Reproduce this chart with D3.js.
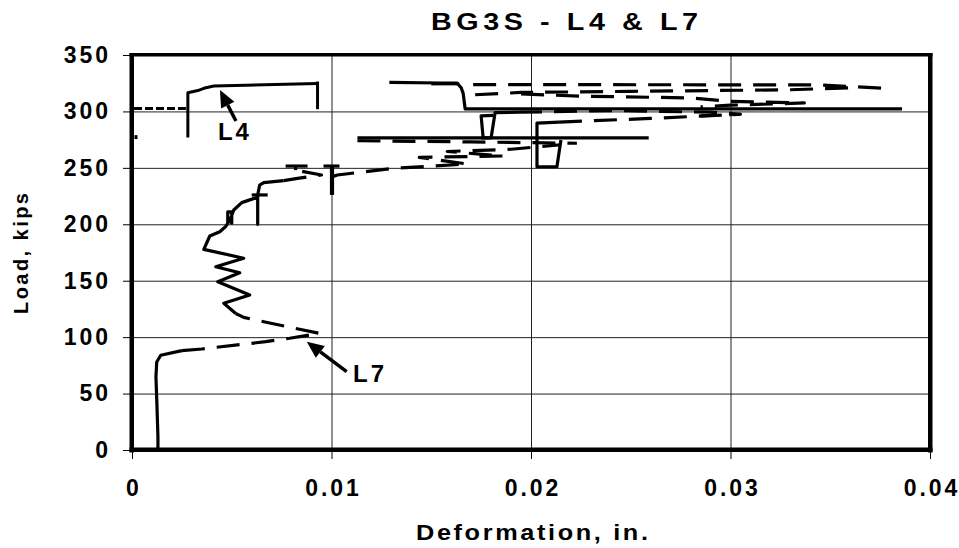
<!DOCTYPE html>
<html lang="en">
<head>
<meta charset="UTF-8" />
<title>BG3S - L4 &amp; L7</title>
<script src="https://d3js.org/d3.v7.min.js"></script>
<style>
  body { margin: 0; background: #fff; }
  svg { display: block; font-family: 'Liberation Sans', Arial, sans-serif; font-weight: bold; }
  .tick text { font-size: 23px; font-weight: bold; letter-spacing: 3px; fill: #000; }
  .grid line { stroke: #222; stroke-width: 1; }
  .grid .domain { display: none; }
</style>
</head>
<body>
<svg id="chart" width="959" height="548"></svg>
<script>
// ---- values (deformation in., load kips) ----
const xTicks = [0, 0.01, 0.02, 0.03, 0.04];
const xTickLabels = ["0", "0.01", "0.02", "0.03", "0.04"];
const yTicks = [0, 50, 100, 150, 200, 250, 300, 350];

// L4 gauge
const l4Solid = [
  [[0.0002, 275.5], [0.0002, 279]],
  [[0.0028, 277], [0.0028, 316.5], [0.0033, 318.5], [0.0036, 320.5], [0.0041, 322.5], [0.0093, 324.8]],
  [[0.0093, 326.5], [0.0093, 302]]
];
const l4Dotted = [
  [[0.0001, 302.5], [0.0028, 302.5]]
];

// L7 gauge
const l7Solid = [
  [[0.0013, 0], [0.0013, 12], [0.00125, 40], [0.0012, 65], [0.00124, 78], [0.00144, 84], [0.0025, 88]],
  [[0.0052, 121], [0.0046, 130], [0.0059, 137.3], [0.0043, 149], [0.0054, 157], [0.0042, 162.4],
   [0.0056, 169.9], [0.0036, 177.8], [0.0039, 189.6], [0.0044, 193.4], [0.0047, 198], [0.0048, 201],
   [0.0048, 211], [0.0050, 211], [0.0050, 201], [0.0049, 203], [0.0051, 212.7], [0.0055, 219.2],
   [0.0063, 224], [0.0063, 200], [0.0063, 226], [0.0064, 234.8], [0.0066, 236.9], [0.0076, 238.7]],
  [[0.0060, 226], [0.0068, 226]],
  [[0.0077, 251.6], [0.0088, 251.6]],
  [[0.0082, 248], [0.0082, 251.6]],
  [[0.0096, 251.6], [0.0104, 251.6]],
  [[0.0100, 251.6], [0.0100, 226]],
  [[0.01005, 251.6], [0.01005, 226]],
  [[0.0259, 276.5], [0.0113, 276.5]],
  [[0.0215, 274.7], [0.0213, 251], [0.0203, 251], [0.0203, 289.7], [0.0214, 290.6]],
  [[0.0176, 277], [0.0175, 296], [0.0181, 296.5]],
  [[0.0175, 276.5], [0.0180, 276.5], [0.0182, 299], [0.0194, 299.3]],
  [[0.0129, 325.8], [0.0155, 325.2], [0.0163, 325], [0.0165, 321], [0.0166, 316], [0.0167, 302.2], [0.0386, 302.2]],
  [[0.0150, 324.5], [0.0164, 324.5]]
];
const l7Dashed = [
  [[0.0025, 88], [0.0035, 89.5], [0.0067, 96], [0.0079, 99], [0.0094, 103.4], [0.0084, 107],
   [0.0069, 112.5], [0.0056, 117.5], [0.0052, 121]],
  [[0.0076, 238.7], [0.0083, 240.7], [0.0095, 243.7], [0.0082, 248]],
  [[0.0100, 242], [0.0103, 243.7], [0.0131, 249.6], [0.0168, 253.4], [0.0144, 259.3], [0.0186, 260.5],
   [0.0158, 264.5], [0.0190, 266.5], [0.0215, 270.5]],
  [[0.0113, 274], [0.0170, 273], [0.0223, 271.8]],
  [[0.0214, 290.6], [0.0260, 293.8], [0.0305, 297.5]],
  [[0.0194, 299.3], [0.0240, 300.8], [0.0290, 299.3], [0.0305, 297.5], [0.0285, 296]],
  [[0.0171, 323.8], [0.0345, 323.5], [0.0358, 322.2], [0.0378, 320.5]],
  [[0.0172, 314.8], [0.0195, 316.8], [0.0250, 317.8], [0.0330, 319.2], [0.0360, 321]],
  [[0.0195, 315.5], [0.0225, 313.5], [0.0280, 312], [0.0300, 309], [0.0337, 307.5], [0.0300, 305.5], [0.0285, 304]]
];

// callouts: label centre, arrow tail, arrow tip
const callouts = [
  { text: "L4", at: [0.00516, 282.7], tail: [0.00521, 291.5], tip: [0.00441, 319] },
  { text: "L7", at: [0.01193, 68.2], tail: [0.01076, 69.4], tip: [0.00876, 96] }
];

// ---- drawing ----
const svg = d3.select("#chart");
const x = d3.scaleLinear().domain([0, 0.04]).range([132, 930]);
const y = d3.scaleLinear().domain([0, 350]).range([450, 55]);
const line = d3.line().x(d => x(d[0])).y(d => y(d[1]));

// grid
svg.append("g").attr("class", "grid")
  .attr("transform", "translate(0,450)")
  .call(d3.axisBottom(x).tickValues(xTicks.slice(1, -1)).tickSize(-(450 - 55)).tickFormat(""));
svg.append("g").attr("class", "grid")
  .attr("transform", "translate(132,0)")
  .call(d3.axisLeft(y).tickValues(yTicks.slice(1, -1)).tickSize(-(930 - 132)).tickFormat(""));

// axes with ticks + labels
const xAxis = svg.append("g")
  .attr("transform", "translate(0,450)")
  .call(d3.axisBottom(x).tickValues(xTicks).tickSize(9).tickPadding(21)
    .tickFormat((d, i) => xTickLabels[i]));
xAxis.select(".domain").remove();
xAxis.selectAll(".tick line").style("stroke", "#000");
xAxis.selectAll(".tick text").attr("dx", 1.5);

const yAxis = svg.append("g")
  .attr("transform", "translate(132,0)")
  .call(d3.axisLeft(y).tickValues(yTicks).tickSize(9).tickPadding(12));
yAxis.select(".domain").remove();
yAxis.selectAll(".tick line").style("stroke", "#000");

// plot frame: four filled bars along the domain edges
const xd = x.domain(), yd = y.domain();
const px0 = x(xd[0]), px1 = x(xd[1]), py0 = y(yd[0]), py1 = y(yd[1]);
const edges = [
  [px0 - 2.5, py1 - 2, px1 - px0 + 5, 3.5], // top
  [px0 - 2.5, py0 - 2.5, px1 - px0 + 5, 4.5], // bottom
  [px0 - 2.5, py1 - 2, 4.5, py0 - py1 + 4.5], // left
  [px1 - 2, py1 - 2, 4.5, py0 - py1 + 4.5]  // right
];
svg.append("g").selectAll("rect")
  .data(edges)
  .join("rect")
  .attr("x", d => d[0]).attr("y", d => d[1])
  .attr("width", d => d[2]).attr("height", d => d[3])
  .attr("fill", "#000");

// curves
const curves = svg.append("g");

function drawRuns(runs, width, dash) {
  curves.append("g").selectAll("path")
    .data(runs)
    .join("path")
    .attr("d", line)
    .style("fill", "none")
    .style("stroke", "#000")
    .style("stroke-linejoin", "round")
    .style("stroke-width", width + "px")
    .style("stroke-dasharray", dash || "none");
}
drawRuns(l4Solid, 3, null);
drawRuns(l4Dotted, 3, "8 3");
drawRuns(l7Solid, 3.2, null);
drawRuns(l7Dashed, 3.2, "23 12");

// callouts
callouts.forEach(c => {
  const tx = x(c.tip[0]), ty = y(c.tip[1]);
  const sx = x(c.tail[0]), sy = y(c.tail[1]);
  const ang = Math.atan2(ty - sy, tx - sx);
  const len = 17, half = 7.5;
  const bx = tx - len * Math.cos(ang), by = ty - len * Math.sin(ang);
  svg.append("line")
    .attr("x1", sx).attr("y1", sy).attr("x2", bx).attr("y2", by)
    .style("stroke", "#000").style("stroke-width", "3.5px");
  svg.append("path")
    .attr("d", `M${tx},${ty}L${bx + half * Math.sin(ang)},${by - half * Math.cos(ang)}L${bx - half * Math.sin(ang)},${by + half * Math.cos(ang)}Z`)
    .style("fill", "#000");
  svg.append("text")
    .attr("x", x(c.at[0])).attr("y", y(c.at[1]))
    .attr("dy", "0.36em")
    .attr("text-anchor", "middle")
    .style("font-size", "24px").style("letter-spacing", "3px")
    .text(c.text);
});

// titles
svg.append("text")
  .attr("transform", "translate(431,30) scale(1.25,1)")
  .attr("textLength", 213.6).attr("lengthAdjust", "spacing")
  .style("font-size", "23px")
  .text("BG3S - L4 & L7");

svg.append("text")
  .attr("transform", "translate(416,540) scale(1.15,1)")
  .attr("textLength", 201.7).attr("lengthAdjust", "spacing")
  .style("font-size", "22px")
  .text("Deformation, in.");

svg.append("text")
  .attr("transform", "translate(28,314) rotate(-90)")
  .attr("textLength", 121).attr("lengthAdjust", "spacing")
  .style("font-size", "20px")
  .text("Load, kips");
</script>
</body>
</html>
